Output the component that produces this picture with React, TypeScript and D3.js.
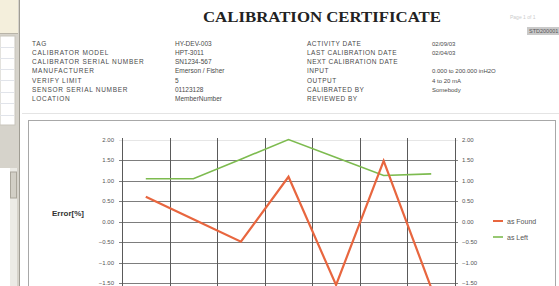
import React from "react";
import * as d3 from "d3";

// test points (their labels sit below the visible part of the page, so they are not drawn)
const categories = ["0%", "17%", "33%", "50%", "67%", "83%", "100%"];
const asFound = [0.61, 0.06, -0.49, 1.1, -1.55, 1.49, -1.62];
const asLeft = [1.05, 1.05, 1.53, 2.01, 1.57, 1.13, 1.17];
const yTicks = [-2, -1.5, -1, -0.5, 0, 0.5, 1, 1.5, 2];

const leftLabels = [
  "TAG",
  "CALIBRATOR MODEL",
  "CALIBRATOR SERIAL NUMBER",
  "MANUFACTURER",
  "VERIFY LIMIT",
  "SENSOR SERIAL NUMBER",
  "LOCATION",
];
const leftValues = ["HY-DEV-003", "HPT-3011", "SN1234-567", "Emerson / Fisher", "5", "01123128", "MemberNumber"];
const rightLabels = [
  "ACTIVITY DATE",
  "LAST CALIBRATION DATE",
  "NEXT CALIBRATION DATE",
  "INPUT",
  "OUTPUT",
  "CALIBRATED BY",
  "REVIEWED BY",
];
const rightValues = ["02/09/03", "02/04/03", "", "0.000 to 200.000 inH2O", "4 to 20 mA", "Somebody", ""];

const W = 559;
const H = 286;

const App = () => {
  const x = d3.scaleBand().domain(categories).range([122, 455]);
  const y = d3.scaleLinear().domain([-2, 2]).range([303.4, 140]);
  const fmt = d3.format(".2f");

  const line = d3
    .line<number>()
    .x((d, i) => (x(categories[i]) as number) + x.bandwidth() / 2)
    .y((d) => y(d));

  const bounds = categories.map((c) => x(c) as number).concat([x.range()[1]]);
  const rowY = (i: number) => 45.5 + i * 9.3;
  // only ticks whose label fits inside the window
  const labelTicks = yTicks.filter((t) => y(t) < H);

  return (
    <svg
      width={W}
      height={H}
      style={{ position: "absolute", left: 0, top: 0, background: "#fff" }}
      fontFamily="Liberation Sans, Arial, sans-serif"
    >
      {/* left application panel */}
      <rect x={0} y={0} width={20} height={H} fill="#d6d3cb" />
      <rect x={0} y={0} width={18} height={33} fill="#f4efdc" />
      <line x1={0} x2={18} y1={33.5} y2={33.5} stroke="#b8b4a8" />
      <rect x={0} y={36} width={15} height={89} fill="#fff" stroke="#c8c5bc" />
      {[47, 58, 69, 80, 92, 103, 115].map((v) => (
        <line key={v} x1={0} x2={14} y1={v + 0.5} y2={v + 0.5} stroke="#e1e4ea" />
      ))}
      <rect x={0} y={168} width={17} height={H - 168} fill="#fff" />
      <rect x={10} y={168} width={7} height={H - 168} fill="#ecebe6" />
      <rect x={10.5} y={172} width={6} height={26} fill="#d2cfc6" stroke="#aaa69b" />
      <line x1={19.5} x2={19.5} y1={0} y2={H} stroke="#a09d94" />

      {/* header */}
      <text
        x={203}
        y={22}
        fontFamily="Liberation Serif, Times New Roman, serif"
        fontWeight="bold"
        fontSize={14}
        textLength={238}
        lengthAdjust="spacingAndGlyphs"
        fill="#222"
      >
        CALIBRATION CERTIFICATE
      </text>
      <text x={510} y={19} fontSize={5} fill="#ccc">
        Page 1 of 1
      </text>
      <rect x={527} y={27} width={32} height={8} fill="#c9c9c9" />
      <text x={529} y={33} fontSize={5.5} fill="#555">
        STD200001
      </text>

      {leftLabels.map((t, i) => (
        <text key={t} x={32} y={rowY(i)} fontSize={6.5} letterSpacing={0.7} fill="#4a4a4a">
          {t}
        </text>
      ))}
      {leftValues.map((t, i) => (
        <text key={i} x={175} y={rowY(i)} fontSize={6.5} fill="#4a4a4a">
          {t}
        </text>
      ))}
      {rightLabels.map((t, i) => (
        <text key={t} x={307} y={rowY(i)} fontSize={6.5} letterSpacing={0.5} fill="#4a4a4a">
          {t}
        </text>
      ))}
      {rightValues.map((t, i) => (
        <text key={i} x={432} y={rowY(i)} fontSize={6} fill="#4a4a4a">
          {t}
        </text>
      ))}

      <line x1={22} x2={W} y1={113.5} y2={113.5} stroke="#e4e4e4" />

      {/* chart box */}
      <rect x={28.5} y={120.5} width={527} height={200} fill="#fff" stroke="#a8a8a8" />

      {/* grid */}
      {yTicks.map((t) => (
        <line
          key={t}
          x1={119}
          x2={458}
          y1={Math.round(y(t)) + 0.5}
          y2={Math.round(y(t)) + 0.5}
          stroke={t === 2 ? "#e6e6e6" : "#7d7d7d"}
        />
      ))}
      {bounds.map((b, i) => (
        <line
          key={i}
          x1={Math.round(b) + 0.5}
          x2={Math.round(b) + 0.5}
          y1={138}
          y2={H + 20}
          stroke="#5a5a5a"
        />
      ))}

      {/* axis labels */}
      {labelTicks.map((t) => (
        <text key={"l" + t} x={114} y={Math.min(y(t) + 2, H - 1.5)} fontSize={6} textAnchor="end" fill="#555">
          {fmt(t)}
        </text>
      ))}
      {labelTicks.map((t) => (
        <text key={"r" + t} x={462} y={Math.min(y(t) + 2, H - 1.5)} fontSize={6} fill="#555">
          {fmt(t)}
        </text>
      ))}
      <text x={52} y={216} fontSize={8} fontWeight="bold" fill="#333">
        Error[%]
      </text>

      {/* series */}
      <path d={line(asLeft) as string} fill="none" stroke="#7dbb4f" strokeWidth={1.6} />
      <path d={line(asFound) as string} fill="none" stroke="#e8663f" strokeWidth={2.2} />

      {/* legend */}
      <line x1={493} x2={503} y1={221} y2={221} stroke="#e8663f" strokeWidth={2} />
      <text x={507} y={223.5} fontSize={7} fill="#555">
        as Found
      </text>
      <line x1={493} x2={503} y1={237} y2={237} stroke="#7dbb4f" strokeWidth={1.6} />
      <text x={507} y={239.5} fontSize={7} fill="#555">
        as Left
      </text>
    </svg>
  );
};

export default App;
